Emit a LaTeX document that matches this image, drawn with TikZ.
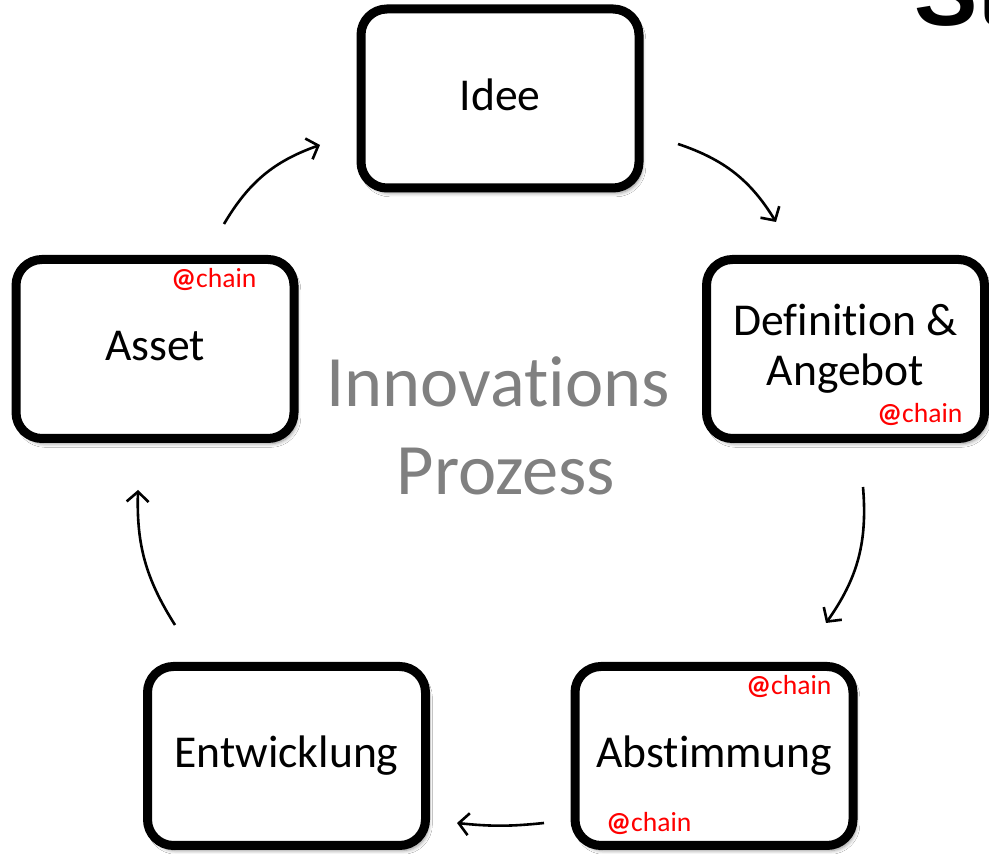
\documentclass[tikz,border=0pt]{standalone}
\usepackage{fontspec}
\setmainfont{Carlito}[Ligatures = NoCommon]
\newfontfamily\titlefont{Liberation Sans}
\usepackage{tikz}
\usetikzlibrary{arrows.meta, shadows.blur}

\definecolor{chainred}{RGB}{255,0,0}
\definecolor{centergray}{RGB}{128,128,128}

\tikzset{
  stage/.style = {draw, line width = 4.5pt, rounded corners = 13pt, fill = white,
    minimum width = 139pt, minimum height = 89.5pt, align = center,
    font = \fontsize{22.8}{25}\selectfont,
    blur shadow = {shadow xshift = 1.5pt, shadow yshift = -2.5pt, shadow blur steps = 6, shadow opacity = 45}},
  oneline/.style = {text height = 17pt, text depth = 5pt},
  chaintag/.style = {anchor = base west, inner sep = 0pt, text = chainred,
    font = \fontsize{13.8}{16}\selectfont},
  cycle/.style = {-{Straight Barb[length = 5pt, width = 11pt]}, line width = 1.3pt, bend left = 20}
}

\begin{document}
\begin{tikzpicture}[x = 0.5pt, y = 0.5pt]
      \clip (0, 0) rectangle (989, 854);
      \fill [white] (0, 0) rectangle (989, 854);
      \node [anchor = base west, inner sep = 0pt, font = \titlefont\bfseries\fontsize{47.5}{50}\selectfont] (slidetitle) at (914, 828) {St};
      % the five stages
      \node [stage, oneline] (idee) at (500, 755.5) {Idee};
      \node [stage] (definition) at (845.5, 505) {Definition \&\\Angebot};
      \node [stage, oneline] (abstimmung) at (714, 98) {Abstimmung};
      \node [stage, oneline] (entwicklung) at (286.5, 98) {Entwicklung};
      \node [stage, oneline] (asset) at (155, 505) {Asset};
      % chain tags
      \node [chaintag] (assetchain) at (171, 566) {{\bfseries @}chain};
      \node [chaintag] (definitionchain) at (877, 431) {{\bfseries @}chain};
      \node [chaintag] (abstimmungchaintop) at (746, 159) {{\bfseries @}chain};
      \node [chaintag] (abstimmungchainbottom) at (606, 22) {{\bfseries @}chain};
      % centre
      \node [anchor = base, inner sep = 0pt, text = centergray, font = \fontsize{36.2}{44}\selectfont] (centertop) at (498, 447) {Innovations};
      \node [anchor = base, inner sep = 0pt, text = centergray, font = \fontsize{36.2}{44}\selectfont] (centerbottom) at (506, 359) {Prozess};
      % cycle arrows
      \coordinate (ideeout) at (678, 710);
      \coordinate (definitionin) at (776, 632);
      \coordinate (definitionout) at (863, 367);
      \coordinate (abstimmungin) at (826, 231);
      \coordinate (abstimmungout) at (544, 31);
      \coordinate (entwicklungin) at (457, 31);
      \coordinate (entwicklungout) at (175, 229);
      \coordinate (assetin) at (138, 364);
      \coordinate (assetout) at (224, 630);
      \coordinate (ideein) at (320, 709);
      \draw [cycle] (ideeout) to (definitionin);
      \draw [cycle] (definitionout) to (abstimmungin);
      \draw [cycle, bend left = 6] (abstimmungout) to (entwicklungin);
      \draw [cycle, bend left = 17] (entwicklungout) to (assetin);
      \draw [cycle] (assetout) to (ideein);
    \end{tikzpicture}
\end{document}
